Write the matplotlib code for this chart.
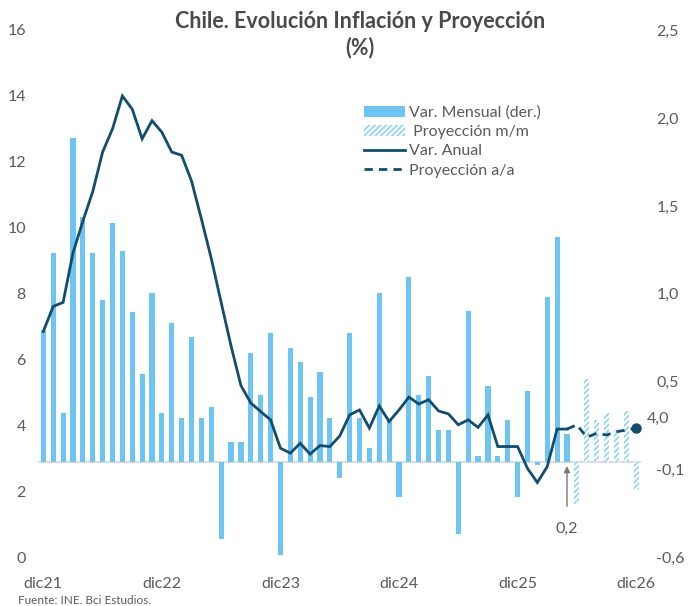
import matplotlib
matplotlib.use("Agg")
import matplotlib.pyplot as plt
from matplotlib.patches import Patch
from matplotlib.lines import Line2D
import numpy as np

plt.rcParams['font.family'] = ['Lato', 'DejaVu Sans']
plt.rcParams['hatch.linewidth'] = 1.2

# monthly CPI change, dic21 .. may26 (right axis)
mensual = [0.75, 1.19, 0.28, 1.84, 1.39, 1.19, 0.92, 1.36, 1.20, 0.85, 0.50, 0.96,
           0.28, 0.79, 0.25, 0.71, 0.25, 0.31, -0.44, 0.11, 0.11, 0.62, 0.38, 0.73,
           -0.53, 0.65, 0.57, 0.37, 0.51, 0.25, -0.09, 0.73, 0.25, 0.08, 0.96, 0.24,
           -0.20, 1.05, 0.38, 0.49, 0.18, 0.18, -0.41, 0.86, 0.03, 0.43, 0.03, 0.24,
           -0.20, 0.40, -0.02, 0.94, 1.28, 0.16]
# monthly projection, jun26 .. dic26
proy_mensual = [-0.24, 0.47, 0.24, 0.28, 0.18, 0.29, -0.16]

# annual CPI change (left axis)
anual = [6.86, 7.62, 7.74, 9.24, 10.2, 11.1, 12.3, 13.0, 14.0, 13.6, 12.7, 13.25,
         12.9, 12.3, 12.2, 11.42, 10.27, 9.07, 7.74, 6.42, 5.22, 4.69, 4.43, 4.18,
         3.32, 3.17, 3.47, 3.14, 3.40, 3.37, 3.69, 4.33, 4.48, 3.93, 4.60, 4.13,
         4.48, 4.87, 4.66, 4.79, 4.45, 4.36, 4.03, 4.18, 3.95, 4.33, 3.37, 3.37,
         3.37, 2.71, 2.28, 2.76, 3.90, 3.90]
# annual projection, may26 .. dic26
proy_anual = [3.90, 4.03, 3.65, 3.77, 3.72, 3.82, 3.87, 3.93]

xlabels = ["dic21", "dic22", "dic23", "dic24", "dic25", "dic26"]
right_labels = ["-0,6", "-0,1", "0,5", "1,0", "1,5", "2,0", "2,5"]

bar_col = "#6EC4F3"
hatch_col = "#8FD2F5"
line_col = "#124D6E"
txt_col = "#5a5a5a"

n_real = len(mensual)
x_real = np.arange(n_real)
x_proy = np.arange(n_real, n_real + len(proy_mensual))
x_proy_line = np.arange(n_real - 1, n_real - 1 + len(proy_anual))
n_total = n_real + len(proy_mensual)

fig = plt.figure(figsize=(6.88, 6.06), dpi=100)
ax = fig.add_axes([0.0558, 0.0797, 0.876, 0.8708])
ax2 = ax.twinx()

# bars on right axis, drawn below the line
ax2.set_zorder(1)
ax.set_zorder(2)
ax.patch.set_visible(False)

ax2.axhline(0, color="#d6d6d6", lw=1.2, zorder=1)
ax2.bar(x_real, mensual, width=0.52, color=bar_col, zorder=2)
ax2.bar(x_proy, proy_mensual, width=0.52, facecolor="white", edgecolor=hatch_col,
        hatch="//////", linewidth=0, zorder=2)

ax.plot(x_real, anual, color=line_col, lw=2, solid_joinstyle="miter")
ax.plot(x_proy_line, proy_anual, color=line_col, lw=2, ls=(0, (3, 2.2)))
ax.plot(x_proy_line[-1], proy_anual[-1], "o", color=line_col, ms=6.5)

ax.text(x_proy_line[-1] + 1.1, 4.2, "4,0", color=txt_col, fontsize=11.5,
        ha="left", va="center", clip_on=False)

ax2.annotate("0,2", xy=(n_real - 1, -0.025), xytext=(n_real - 1, -0.38),
             color=txt_col, fontsize=11.5, ha="center", va="center",
             arrowprops=dict(arrowstyle="-|>", color="#777777", lw=1,
                             shrinkA=9, shrinkB=0, mutation_scale=9))

xmin, xmax = -0.5, n_total - 0.5
ax.set_xlim(xmin, xmax)
ax.set_ylim(0, 16)
ax.set_yticks(np.arange(0, 17, 2))
ax.set_xticks(np.arange(0, n_total, 12))
ax.set_xticklabels(xlabels)

r_lo, r_hi = -0.546, 2.457
ax2.set_ylim(r_lo, r_hi)
ax2.set_yticks(np.linspace(r_lo, r_hi, 7))
ax2.set_yticklabels(right_labels)

for a in (ax, ax2):
    for s in a.spines.values():
        s.set_visible(False)
    a.tick_params(length=0, labelsize=11.5, labelcolor=txt_col)
ax.tick_params(axis="y", pad=9)
ax.tick_params(axis="x", pad=14)
ax2.tick_params(axis="y", pad=11)

fig.text(0.523, 1 - 22 / 606, "Chile. Evolución Inflación y Proyección", ha="center",
         va="center", fontsize=15.5, fontweight="bold", color="#4a4a4a")
fig.text(0.523, 1 - 48 / 606, "(%)", ha="center", va="center", fontsize=15.5,
         fontweight="bold", color="#4a4a4a")
fig.text(0.026, 1 - 600 / 606, "Fuente: INE. Bci Estudios.", ha="left", va="center",
         fontsize=8.5, color=txt_col)

handles = [
    Patch(facecolor=bar_col, edgecolor="none"),
    Patch(facecolor="white", edgecolor=hatch_col, hatch="//////", linewidth=0),
    Line2D([], [], color=line_col, lw=2),
    Line2D([], [], color=line_col, lw=2, ls=(0, (3, 2.2))),
]
labels = ["Var. Mensual (der.)", " Proyección m/m", "Var. Anual", "Proyección a/a"]
leg = ax.legend(handles, labels, loc="upper left", bbox_to_anchor=(0.529, 0.826),
                bbox_transform=fig.transFigure, frameon=False, fontsize=11.5,
                handlelength=2.6, handletextpad=0.25, labelspacing=0.32,
                borderaxespad=0, borderpad=0)
for t in leg.get_texts():
    t.set_color(txt_col)

fig.savefig("out.png", dpi=100)
